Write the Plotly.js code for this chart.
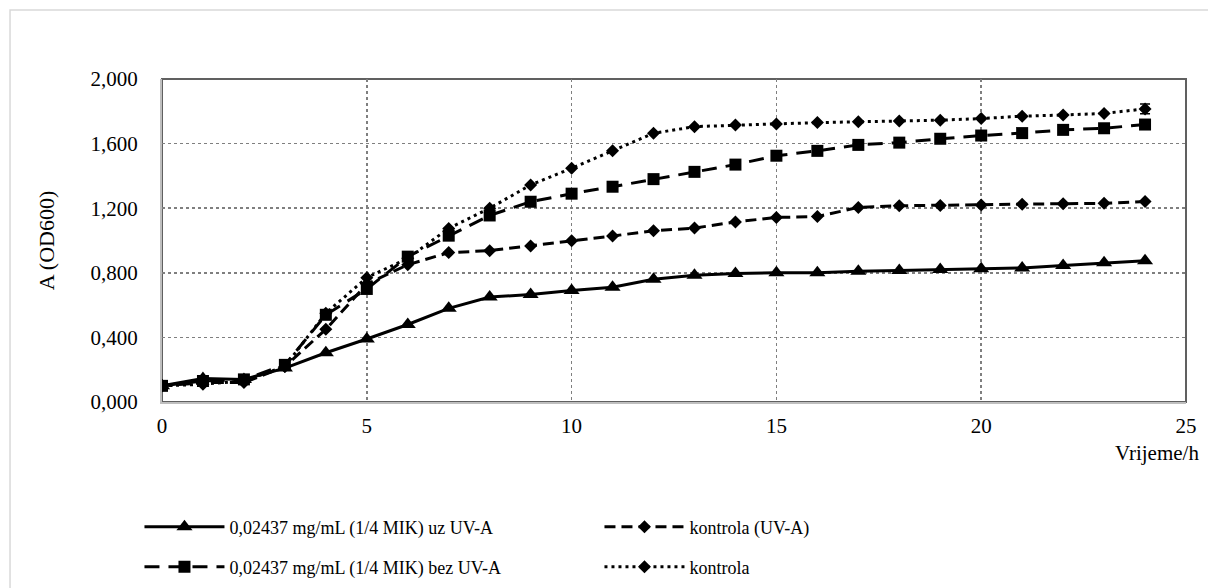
<!DOCTYPE html>
<html>
<head>
<meta charset="utf-8">
<script src="https://cdn.plot.ly/plotly-3.0.1.min.js"></script>
<style>html,body{margin:0;padding:0;background:#fff}#chart{width:1208px;height:588px}</style>
</head>
<body>
<div id="chart"></div>
<script>
const hours = [0,1,2,3,4,5,6,7,8,9,10,11,12,13,14,15,16,17,18,19,20,21,22,23,24];
const uzUVA = [0.10,0.145,0.14,0.21,0.305,0.39,0.48,0.58,0.65,0.665,0.69,0.71,0.76,0.785,0.795,0.80,0.80,0.81,0.815,0.82,0.825,0.83,0.845,0.862,0.875];
const kontrolaUVA = [0.10,0.12,0.12,0.22,0.45,0.73,0.85,0.925,0.937,0.966,0.998,1.028,1.06,1.077,1.115,1.143,1.148,1.205,1.215,1.217,1.22,1.225,1.228,1.23,1.242];
const bezUVA = [0.10,0.13,0.14,0.23,0.54,0.70,0.90,1.03,1.155,1.24,1.29,1.333,1.38,1.425,1.47,1.525,1.555,1.592,1.606,1.63,1.65,1.665,1.685,1.695,1.718];
const kontrola = [0.10,0.11,0.13,0.22,0.55,0.77,0.89,1.075,1.20,1.344,1.447,1.555,1.664,1.705,1.715,1.722,1.73,1.735,1.74,1.745,1.755,1.77,1.777,1.787,1.815];
const kontrolaErr = [0,0,0,0,0,0,0,0,0,0,0,0,0,0,0,0,0,0,0,0,0,0,0,0,0.03];
const names = ["0,02437 mg/mL (1/4 MIK) uz UV-A","kontrola (UV-A)","0,02437 mg/mL (1/4 MIK) bez UV-A","kontrola"];
const yTicks = [0,0.4,0.8,1.2,1.6,2.0];
const xTicks = [0,5,10,15,20,25];

const FONT = "Liberation Serif";
const traces = [
  {x:hours,y:uzUVA,name:names[0],mode:"lines+markers",legend:"legend",
   line:{color:"#000",width:3},marker:{symbol:"triangle-up",size:14,color:"#000"}},
  {x:hours,y:kontrolaUVA,name:names[1],mode:"lines+markers",legend:"legend",
   line:{color:"#000",width:3,dash:"11px,6px"},marker:{symbol:"diamond",size:10,color:"#000"}},
  {x:hours,y:bezUVA,name:names[2],mode:"lines+markers",legend:"legend2",
   line:{color:"#000",width:3,dash:"15px,9px"},marker:{symbol:"square",size:12,color:"#000"}},
  {x:hours,y:kontrola,name:names[3],mode:"lines+markers",legend:"legend2",
   line:{color:"#000",width:3,dash:"3px,4px"},marker:{symbol:"diamond",size:10,color:"#000"},
   error_y:{type:"data",array:kontrolaErr,visible:true,color:"#000",thickness:1.5,width:5}}
];
const legendCommon = {orientation:"h",xanchor:"left",yanchor:"middle",x:-0.022,
  font:{family:FONT,size:18,color:"#000"},itemwidth:80,entrywidth:365,bgcolor:"rgba(0,0,0,0)",traceorder:"normal"};
const layout = {
  width:1208,height:588,
  margin:{l:162,r:22,t:79,b:186,autoexpand:false},
  paper_bgcolor:"#fff",plot_bgcolor:"#fff",
  separators:",.",
  font:{family:FONT,size:20,color:"#000"},
  xaxis:{range:[0,25],tickvals:xTicks,ticktext:xTicks.map(String),showgrid:true,gridcolor:"#7f7f7f",griddash:"dot",gridwidth:1.5,
    zeroline:false,showline:true,linecolor:"#bfbfbf",linewidth:2,ticks:"",ticklabelstandoff:4,automargin:false,
    tickfont:{family:FONT,size:21,color:"#000"}},
  yaxis:{range:[0,2],tickvals:yTicks,tickformat:".3f",showgrid:true,gridcolor:"#7f7f7f",griddash:"dot",gridwidth:1.5,
    zeroline:false,showline:true,linecolor:"#bfbfbf",linewidth:2,ticks:"",ticklabelstandoff:18,automargin:false,
    title:{text:"A (OD600)",font:{family:FONT,size:22,color:"#000"},standoff:30},
    tickfont:{family:FONT,size:21,color:"#000"}},
  showlegend:true,
  legend:Object.assign({},legendCommon,{y:-0.387}),
  legend2:Object.assign({},legendCommon,{y:-0.511}),
  annotations:[{text:"Vrijeme/h",xref:"paper",yref:"paper",x:1.015,y:-0.116,xanchor:"right",yanchor:"top",showarrow:false,
    font:{family:FONT,size:21,color:"#000"}}],
  shapes:[
    {type:"rect",xref:"paper",yref:"paper",x0:-0.1484,x1:1.2,y0:-0.7,y1:1.2136,line:{color:"#d9d9d9",width:1.5},fillcolor:"rgba(0,0,0,0)",layer:"below"},
    {type:"rect",xref:"paper",yref:"paper",x0:0,x1:1,y0:0,y1:1,line:{color:"#606060",width:2},fillcolor:"rgba(0,0,0,0)",layer:"below"}
  ]
};
Plotly.newPlot("chart",traces,layout,{displayModeBar:false,staticPlot:true});
</script>
</body>
</html>
